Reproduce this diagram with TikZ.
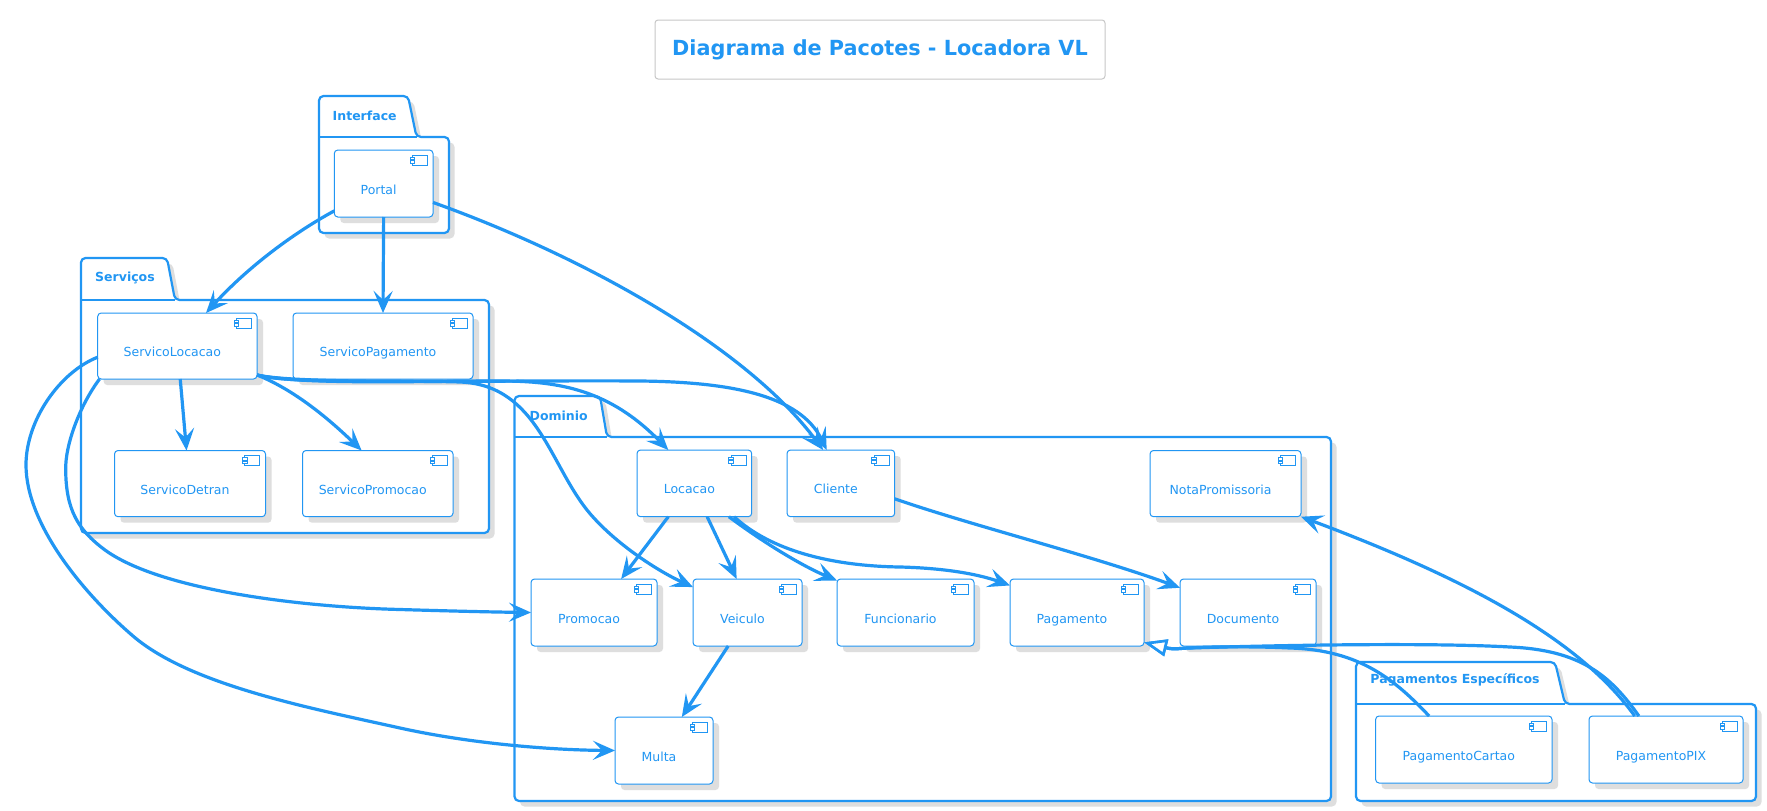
\documentclass[tikz,border=0pt]{standalone}
\usepackage{fontspec}
\setmainfont{DejaVu Sans}
\usetikzlibrary{arrows.meta,shadows}
\definecolor{blu}{HTML}{2196F3}
\definecolor{shad}{HTML}{DEDEDE}
\tikzset{
  compbox/.style={draw=blu,line width=1pt,fill=white,rounded corners=3.5pt,inner sep=0pt,outer sep=0pt,
    text=blu,font=\fontsize{12.5}{15}\selectfont,
    drop shadow={shadow xshift=6pt,shadow yshift=-6pt,fill=shad,opacity=1}},
  pkgline/.style={draw=blu,line width=2.2pt,rounded corners=4.5pt},
  pkgtitle/.style={text=blu,font=\bfseries\fontsize{12.5}{15}\selectfont,inner sep=0pt},
  icon/.style={draw=blu,line width=0.9pt,fill=white},
  conn/.style={draw=blu,line width=3.2pt,-{Stealth[length=22pt,width=19pt,inset=9pt]}},
  gen/.style={draw=blu,line width=3.2pt,-{Triangle[open,fill=white,length=23pt,width=17pt,line width=2.6pt]}},
}
% name, x1, y1, x2, y2, text
\newcommand{\compnode}[6]{%
  \pgfmathsetmacro{\cw}{#4-#2}\pgfmathsetmacro{\ch}{#5-#3}%
  \pgfmathsetmacro{\cx}{(#2+#4)/2}\pgfmathsetmacro{\cy}{(#3+#5)/2}%
  \node[compbox,minimum width=\cw pt,minimum height=\ch pt] (#1) at (\cx,\cy) {\rule{0pt}{21pt}\smash{#6\kern10pt}};
  \draw[icon] ([xshift=-20.7pt,yshift=-5pt]#1.north east) rectangle ([xshift=-5.7pt,yshift=-15pt]#1.north east);
  \draw[icon] ([xshift=-23pt,yshift=-7pt]#1.north east) rectangle ([xshift=-18.5pt,yshift=-9.7pt]#1.north east);
  \draw[icon] ([xshift=-23pt,yshift=-10.7pt]#1.north east) rectangle ([xshift=-18.5pt,yshift=-13.4pt]#1.north east);
}
% x1, ytab, tabxtop, tabxbot, yline, x2, y2
\newcommand{\pkgshape}[7]{%
  \fill[shad,rounded corners=4.5pt,shift={(5.5,5.5)}] (#1,#5) -- (#1,#2) -- (#3,#2) -- (#4,#5) -- (#6,#5) -- (#6,#7) -- (#1,#7) -- cycle;
  \path[pkgline,fill=white] (#1,#5) -- (#1,#2) -- (#3,#2) -- (#4,#5) -- (#6,#5) -- (#6,#7) -- (#1,#7) -- cycle;
  \draw[draw=blu,line width=2.2pt] (#1,#5) -- (#4,#5);
}
\begin{document}
\begin{tikzpicture}[x=1pt,y=-1pt]
\useasboundingbox (0,0) rectangle (1767,811);
\fill[white] (0,0) rectangle (1767,811);

\node[draw=black!22,line width=1pt,fill=white,rounded corners=3pt,minimum width=450pt,minimum height=59pt,
  text=blu,font=\bfseries\fontsize{20.8}{25}\selectfont,inner sep=0pt] (title) at (880,49.5) {Diagrama de Pacotes - Locadora VL};

\pkgshape{319}{96}{408}{416.5}{137}{449}{233}
\node[pkgtitle] (pinterface) at (364.7,116) {Interface};
\pkgshape{81}{258}{167}{175}{300}{489}{533}
\node[pkgtitle] (pservicos) at (125,278) {Serviços};
\pkgshape{514.5}{396}{600}{607}{437}{1331}{801}
\node[pkgtitle] (pdominio) at (558.7,415.7) {Dominio};
\pkgshape{1356}{662}{1555}{1565}{704}{1756}{801}
\node[pkgtitle] (ppag) at (1455,680) {Pagamentos Específicos};

\compnode{portal}{334.3}{150}{433}{217}{Portal}
\compnode{sl}{97.7}{313}{257}{379}{ServicoLocacao}
\compnode{sp}{293}{313}{473}{379}{ServicoPagamento}
\compnode{sd}{114.5}{450.5}{265.5}{516.7}{ServicoDetran}
\compnode{spr}{302.5}{450.5}{453}{516.7}{ServicoPromocao}
\compnode{loc}{637}{450}{751.7}{516.7}{Locacao}
\compnode{cli}{787}{450}{894.7}{516.7}{Cliente}
\compnode{nota}{1150}{450.5}{1301}{516.7}{NotaPromissoria}
\compnode{prom}{531}{579}{657}{646}{Promocao}
\compnode{vei}{693}{579}{802}{646}{Veiculo}
\compnode{fun}{837}{579}{974}{646}{Funcionario}
\compnode{pag}{1010}{579}{1144}{646}{Pagamento}
\compnode{doc}{1180}{579}{1316}{646}{Documento}
\compnode{multa}{615}{717}{713}{784}{Multa}
\compnode{pc}{1375.6}{716}{1552}{783}{PagamentoCartao}
\compnode{pix}{1589}{716}{1743}{783}{PagamentoPIX}

\draw[conn] (portal.209) .. controls (290,235) and (245,270) .. (sl.49);
\draw[conn] (portal.south) -- (sp.north);
\draw[conn] (portal.-21.6) .. controls (580,255) and (745,345) .. (cli.118);

\draw[conn] (sl.-20) .. controls (300,385) and (500,380) .. (640,381) .. controls (730,382) and (800,395) .. (cli.113);
\draw[conn] (sl.-20) .. controls (300,385) and (420,381) .. (500,381) .. controls (560,381) and (610,390) .. (loc.128.3);
\draw[conn] (sl.-20) .. controls (290,384) and (400,380) .. (460,382) .. controls (540,385) and (550,470) .. (593,517) .. controls (620,547) and (660,572) .. (vei.155.8);
\draw[conn] (sl.-85.4) -- (sd.96.5);
\draw[conn] (sl.-20) .. controls (295,390) and (330,420) .. (spr.116.6);
\draw[conn] (sl.203.6) .. controls (80,405) and (65,445) .. (65.7,470) .. controls (66,510) and (78,530) .. (105,550) .. controls (160,590) and (300,607) .. (400,609.5) .. controls (450,611) and (490,612) .. (prom.west);
\draw[conn] (sl.188.6) .. controls (60,372) and (26,420) .. (26,465) .. controls (26,525) and (85,595) .. (133,636) .. controls (190,685) and (310,708) .. (400,728) .. controls (470,743.5) and (550,750) .. (multa.west);

\draw[conn] (loc.232.8) -- (prom.51.8);
\draw[conn] (loc.-69.2) -- (vei.108);
\draw[conn] (loc.-44.7) .. controls (760,540) and (800,565) .. (fun.155);
\draw[conn] (loc.-40.8) .. controls (770,550) and (830,566) .. (900,567) .. controls (940,568) and (975,573) .. (pag.158.4);
\draw[conn] (cli.-16.5) .. controls (970,525) and (1090,555) .. (doc.160);
\draw[conn] (vei.240.2) -- (multa.62.4);

\draw[conn] (pix.133.7) .. controls (1580,640) and (1470,580) .. (nota.south east);
\draw[gen] (pix.129.9) .. controls (1610,675) and (1580,650) .. (1510,647) .. controls (1420,642) and (1250,646) .. (1190,648) .. controls (1180,648) and (1175,650) .. (pag.-24);
\draw[gen] (pc.136.9) .. controls (1395,680) and (1360,650) .. (1290,648) .. controls (1250,646) and (1200,647) .. (1190,648) .. controls (1180,648) and (1175,650) .. (pag.-24);
\end{tikzpicture}
\end{document}
